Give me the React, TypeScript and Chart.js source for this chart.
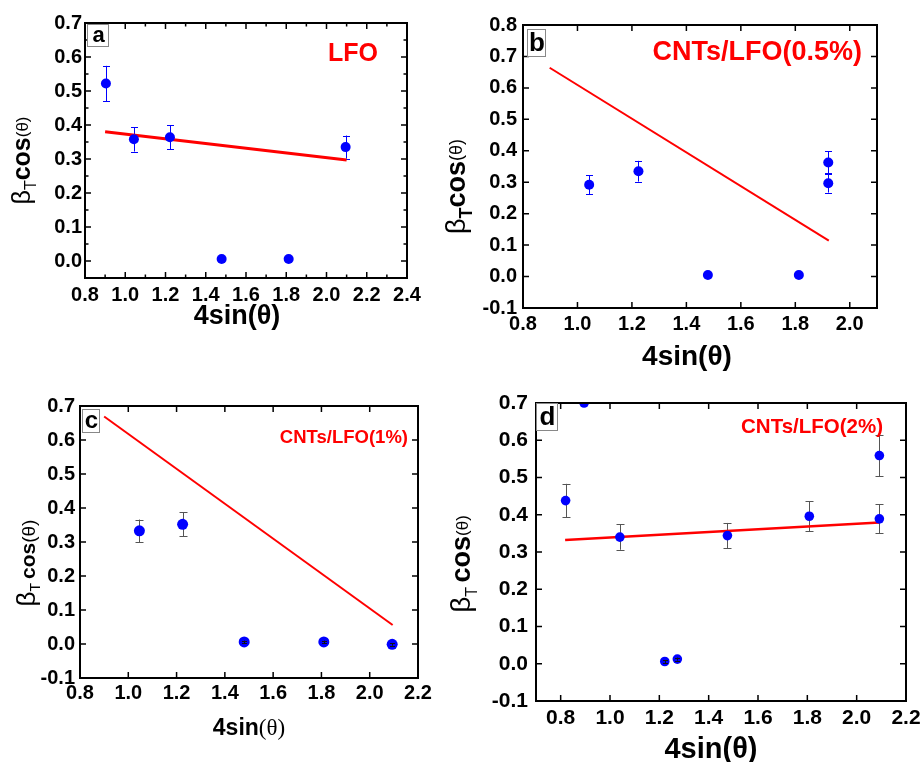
import React, { useEffect, useRef } from "react";
import { Chart, registerables } from "chart.js";
Chart.register(...registerables);

const SANS = "'Liberation Sans', Arial, sans-serif";
const SERIF = "'Liberation Serif', 'Times New Roman', serif";

// ---- Panel a : LFO
const aX = [0.904, 1.043, 1.222, 1.479, 1.812, 2.095];
const aY = [0.522, 0.358, 0.364, 0.006, 0.006, 0.335];
const aErr = [0.052, 0.036, 0.036, 0, 0, 0.034];
const aFitX = [0.9, 2.1];
const aFitY = [0.38, 0.297];
const aXTicks = [0.8, 1.0, 1.2, 1.4, 1.6, 1.8, 2.0, 2.2, 2.4];
const aYTicks = [0.0, 0.1, 0.2, 0.3, 0.4, 0.5, 0.6, 0.7];

// ---- Panel b : CNTs/LFO(0.5%)
const bX = [1.043, 1.224, 1.479, 1.813, 1.921, 1.921];
const bY = [0.292, 0.335, 0.005, 0.005, 0.363, 0.297];
const bErr = [0.03, 0.033, 0, 0, 0.035, 0.03];
const bFitX = [0.898, 1.923];
const bFitY = [0.664, 0.114];
const bXTicks = [0.8, 1.0, 1.2, 1.4, 1.6, 1.8, 2.0];
const bYTicks = [-0.1, 0.0, 0.1, 0.2, 0.3, 0.4, 0.5, 0.6, 0.7, 0.8];

// ---- Panel c : CNTs/LFO(1%)
const cX = [1.046, 1.225, 1.48, 1.81, 2.093];
const cY = [0.333, 0.352, 0.006, 0.006, -0.001];
const cErr = [0.033, 0.035, 0.004, 0.004, 0.004];
const cFitX = [0.9, 2.095];
const cFitY = [0.669, 0.056];
const cXTicks = [0.8, 1.0, 1.2, 1.4, 1.6, 1.8, 2.0, 2.2];
const cYTicks = [-0.1, 0.0, 0.1, 0.2, 0.3, 0.4, 0.5, 0.6, 0.7];

// ---- Panel d : CNTs/LFO(2%)
const dX = [0.82, 0.895, 1.04, 1.222, 1.273, 1.476, 1.808, 2.092, 2.092];
const dY = [0.438, 0.7, 0.34, 0.006, 0.0125, 0.344, 0.396, 0.389, 0.559];
const dErr = [0.045, 0, 0.034, 0.004, 0.004, 0.034, 0.04, 0.039, 0.056];
const dFitX = [0.818, 2.092];
const dFitY = [0.332, 0.379];
const dXTicks = [0.8, 1.0, 1.2, 1.4, 1.6, 1.8, 2.0, 2.2];
const dYTicks = [-0.1, 0.0, 0.1, 0.2, 0.3, 0.4, 0.5, 0.6, 0.7];

type Seg = { t: string; font: string; dy?: number };

type Cfg = {
  area: { l: number; t: number; r: number; b: number };
  xMin: number; xMax: number; yMin: number; yMax: number;
  xTicks: number[]; yTicks: number[];
  xs: number[]; ys: number[]; errs: number[];
  fitX: number[]; fitY: number[];
  minor: boolean;
  tickSize: number; yPad: number; xPad: number;
  pointR: number; errColor: string; cap: number; fitW: number;
  letter: { t: string; x: number; y: number; w: number; h: number; size: number };
  label: { t: string; size: number; dx: number; dy: number };
  xTitle: { segs: Seg[]; dx: number; dy: number };
  yTitle: { segs: Seg[]; dx: number; dy: number };
};

const W = 921;
const H = 762;

function drawSegs(ctx: CanvasRenderingContext2D, segs: Seg[]) {
  let total = 0;
  const widths = segs.map((s) => {
    ctx.font = s.font;
    const w = ctx.measureText(s.t).width;
    total += w;
    return w;
  });
  let x = -total / 2;
  ctx.textAlign = "left";
  ctx.textBaseline = "alphabetic";
  segs.forEach((s, i) => {
    ctx.font = s.font;
    ctx.fillText(s.t, x, s.dy || 0);
    x += widths[i];
  });
}

function Panel({ cfg }: { cfg: Cfg }) {
  const ref = useRef<HTMLCanvasElement | null>(null);
  useEffect(() => {
    const c = cfg;
    const drawErr = (chart: any, small: boolean) => {
      const ctx = chart.ctx;
      const xs = chart.scales.x;
      const ys = chart.scales.y;
      const a = chart.chartArea;
      ctx.save();
      ctx.beginPath();
      ctx.rect(a.left, a.top, a.right - a.left, a.bottom - a.top);
      ctx.clip();
      ctx.strokeStyle = small ? "#111111" : c.errColor;
      ctx.lineWidth = 1;
      const cap = small ? 5 : c.cap;
      c.xs.forEach((xv, i) => {
        const e = c.errs[i];
        if (!e) return;
        if (small !== e < 0.01) return;
        const px = Math.round(xs.getPixelForValue(xv)) + 0.5;
        const top = ys.getPixelForValue(c.ys[i] + e);
        const bot = ys.getPixelForValue(c.ys[i] - e);
        ctx.beginPath();
        ctx.moveTo(px, top);
        ctx.lineTo(px, bot);
        ctx.moveTo(px - cap / 2, Math.round(top) + 0.5);
        ctx.lineTo(px + cap / 2, Math.round(top) + 0.5);
        ctx.moveTo(px - cap / 2, Math.round(bot) + 0.5);
        ctx.lineTo(px + cap / 2, Math.round(bot) + 0.5);
        ctx.stroke();
      });
      ctx.restore();
    };
    const deco = {
      id: "deco",
      beforeDatasetsDraw(chart: any) {
        drawErr(chart, false);
      },
      afterDatasetsDraw(chart: any) {
        drawErr(chart, true);
      },
      afterDraw(chart: any) {
        const ctx = chart.ctx;
        const a = chart.chartArea;
        const xs = chart.scales.x;
        const ys = chart.scales.y;
        ctx.save();
        ctx.strokeStyle = "#000";
        ctx.lineWidth = 1.5;
        const major = 6;
        const minorL = 3.5;
        const xt = c.xTicks.slice();
        const yt = c.yTicks.slice();
        const drawX = (v: number, len: number) => {
          const p = xs.getPixelForValue(v);
          if (p < a.left - 0.5 || p > a.right + 0.5) return;
          ctx.beginPath();
          ctx.moveTo(p, a.bottom);
          ctx.lineTo(p, a.bottom - len);
          ctx.moveTo(p, a.top);
          ctx.lineTo(p, a.top + len);
          ctx.stroke();
        };
        const drawY = (v: number, len: number) => {
          const p = ys.getPixelForValue(v);
          if (p < a.top - 0.5 || p > a.bottom + 0.5) return;
          ctx.beginPath();
          ctx.moveTo(a.left, p);
          ctx.lineTo(a.left + len, p);
          ctx.moveTo(a.right, p);
          ctx.lineTo(a.right - len, p);
          ctx.stroke();
        };
        xt.forEach((v) => drawX(v, major));
        yt.forEach((v) => drawY(v, major));
        if (c.minor) {
          const mx = [xt[0] - (xt[1] - xt[0]) / 2, ...xt.map((v, i) => (i ? (v + xt[i - 1]) / 2 : NaN))];
          mx.filter((v) => !isNaN(v)).forEach((v) => drawX(v, minorL));
          const my = [yt[0] - (yt[1] - yt[0]) / 2, ...yt.map((v, i) => (i ? (v + yt[i - 1]) / 2 : NaN))];
          my.filter((v) => !isNaN(v)).forEach((v) => drawY(v, minorL));
        }
        ctx.lineWidth = 2;
        ctx.strokeRect(a.left, a.top, a.right - a.left, a.bottom - a.top);
        const L = c.letter;
        ctx.fillStyle = "#fff";
        ctx.fillRect(a.left + L.x, a.top + L.y, L.w, L.h);
        ctx.strokeStyle = "#888";
        ctx.lineWidth = 1;
        ctx.strokeRect(a.left + L.x + 0.5, a.top + L.y + 0.5, L.w, L.h);
        ctx.fillStyle = "#000";
        ctx.font = `bold ${L.size}px ${SANS}`;
        ctx.textAlign = "center";
        ctx.textBaseline = "middle";
        ctx.fillText(L.t, a.left + L.x + L.w / 2 + 1, a.top + L.y + L.h / 2 + 1);
        ctx.fillStyle = "#ff0000";
        ctx.font = `bold ${c.label.size}px ${SANS}`;
        ctx.textAlign = "right";
        ctx.textBaseline = "middle";
        ctx.fillText(c.label.t, a.right - c.label.dx, a.top + c.label.dy);
        ctx.fillStyle = "#000";
        ctx.save();
        ctx.translate((a.left + a.right) / 2 + c.xTitle.dx, a.bottom + c.xTitle.dy);
        drawSegs(ctx, c.xTitle.segs);
        ctx.restore();
        ctx.save();
        ctx.translate(a.left - c.yTitle.dx, (a.top + a.bottom) / 2 + c.yTitle.dy);
        ctx.rotate(-Math.PI / 2);
        drawSegs(ctx, c.yTitle.segs);
        ctx.restore();
        ctx.restore();
      },
    };
    const yW = 70;
    const xH = 45;
    const chart = new Chart(ref.current as HTMLCanvasElement, {
      type: "scatter",
      data: {
        datasets: [
          {
            type: "line",
            data: c.fitX.map((x, i) => ({ x, y: c.fitY[i] })),
            borderColor: "#ff0000",
            borderWidth: c.fitW,
            pointRadius: 0,
            fill: false,
            clip: 0,
            order: 2,
          } as any,
          {
            data: c.xs.map((x, i) => ({ x, y: c.ys[i] })),
            backgroundColor: "#0000ff",
            borderWidth: 0,
            pointRadius: c.pointR,
            clip: 0,
            order: 1,
          } as any,
        ],
      },
      options: {
        responsive: false,
        animation: false,
        events: [],
        layout: {
          padding: {
            left: c.area.l - yW,
            top: c.area.t,
            right: W - c.area.r,
            bottom: H - c.area.b - xH,
          },
        },
        plugins: { legend: { display: false }, tooltip: { enabled: false } },
        scales: {
          x: {
            type: "linear",
            min: c.xMin,
            max: c.xMax,
            grid: { display: false, drawTicks: false, tickLength: 0 },
            border: { display: false },
            afterBuildTicks: (s: any) => {
              s.ticks = c.xTicks.map((v) => ({ value: v }));
            },
            afterFit: (s: any) => {
              s.height = xH;
              s.paddingLeft = 0;
              s.paddingRight = 0;
            },
            ticks: {
              color: "#000",
              padding: c.xPad,
              maxRotation: 0,
              autoSkip: false,
              font: { family: SANS, size: c.tickSize, weight: "bold" },
              callback: (v: any) => Number(v).toFixed(1),
            },
          },
          y: {
            type: "linear",
            min: c.yMin,
            max: c.yMax,
            grid: { display: false, drawTicks: false, tickLength: 0 },
            border: { display: false },
            afterBuildTicks: (s: any) => {
              s.ticks = c.yTicks.map((v) => ({ value: v }));
            },
            afterFit: (s: any) => {
              s.width = yW;
              s.paddingTop = 0;
              s.paddingBottom = 0;
            },
            ticks: {
              color: "#000",
              padding: c.yPad,
              autoSkip: false,
              font: { family: SANS, size: c.tickSize, weight: "bold" },
              callback: (v: any) => Number(v).toFixed(1),
            },
          },
        },
      } as any,
      plugins: [deco],
    });
    return () => chart.destroy();
  }, [cfg]);
  return (
    <canvas
      ref={ref}
      width={W}
      height={H}
      style={{ position: "absolute", left: 0, top: 0, width: W, height: H }}
    />
  );
}

const bold = (n: number) => `bold ${n}px ${SANS}`;
const norm = (n: number) => `${n}px ${SANS}`;

const panels: Cfg[] = [
  {
    area: { l: 85, t: 23, r: 407, b: 278 },
    xMin: 0.8, xMax: 2.4, yMin: -0.05, yMax: 0.7,
    xTicks: aXTicks, yTicks: aYTicks,
    xs: aX, ys: aY, errs: aErr, fitX: aFitX, fitY: aFitY,
    minor: true, tickSize: 20, yPad: 3, xPad: 5,
    pointR: 5, errColor: "#0000ff", cap: 7, fitW: 3,
    letter: { t: "a", x: 2, y: 1, w: 21, h: 22, size: 22 },
    label: { t: "LFO", size: 25, dx: 29, dy: 31 },
    xTitle: { segs: [{ t: "4sin(θ)", font: bold(27) }], dx: -9, dy: 46 },
    yTitle: {
      segs: [
        { t: "β", font: norm(25) },
        { t: "T", font: norm(16), dy: 6 },
        { t: "cos", font: bold(25) },
        { t: "(θ)", font: norm(17), dy: -2 },
      ],
      dx: 55, dy: 10,
    },
  },
  {
    area: { l: 523, t: 25, r: 877, b: 308 },
    xMin: 0.8, xMax: 2.1, yMin: -0.1, yMax: 0.8,
    xTicks: bXTicks, yTicks: bYTicks,
    xs: bX, ys: bY, errs: bErr, fitX: bFitX, fitY: bFitY,
    minor: false, tickSize: 20, yPad: 6, xPad: 4,
    pointR: 5, errColor: "#0000ff", cap: 7, fitW: 2,
    letter: { t: "b", x: 4, y: 4, w: 18, h: 27, size: 26 },
    label: { t: "CNTs/LFO(0.5%)", size: 27, dx: 15, dy: 28 },
    xTitle: { segs: [{ t: "4sin(θ)", font: bold(28) }], dx: -13, dy: 57 },
    yTitle: {
      segs: [
        { t: "β", font: norm(27) },
        { t: "T", font: bold(18), dy: 7 },
        { t: "cos", font: bold(27) },
        { t: "(θ)", font: norm(18), dy: -3 },
      ],
      dx: 58, dy: 20,
    },
  },
  {
    area: { l: 80, t: 406, r: 418, b: 678 },
    xMin: 0.8, xMax: 2.2, yMin: -0.1, yMax: 0.7,
    xTicks: cXTicks, yTicks: cYTicks,
    xs: cX, ys: cY, errs: cErr, fitX: cFitX, fitY: cFitY,
    minor: false, tickSize: 20, yPad: 5, xPad: 3,
    pointR: 5.5, errColor: "#555555", cap: 8, fitW: 2,
    letter: { t: "c", x: 2, y: 3, w: 17, h: 23, size: 24 },
    label: { t: "CNTs/LFO(1%)", size: 18.5, dx: 10, dy: 32 },
    xTitle: {
      segs: [
        { t: "4sin", font: bold(23) },
        { t: "(θ)", font: `${23}px ${SERIF}` },
      ],
      dx: 0, dy: 57,
    },
    yTitle: {
      segs: [
        { t: "β", font: norm(26) },
        { t: "T ", font: norm(14), dy: 5 },
        { t: "cos", font: bold(21) },
        { t: "(θ)", font: norm(19) },
      ],
      dx: 45, dy: 21,
    },
  },
  {
    area: { l: 536, t: 403, r: 906, b: 701 },
    xMin: 0.7, xMax: 2.2, yMin: -0.1, yMax: 0.7,
    xTicks: dXTicks, yTicks: dYTicks,
    xs: dX, ys: dY, errs: dErr, fitX: dFitX, fitY: dFitY,
    minor: false, tickSize: 21, yPad: 8, xPad: 5,
    pointR: 4.8, errColor: "#555555", cap: 8, fitW: 2.5,
    letter: { t: "d", x: 0, y: 0, w: 21, h: 27, size: 26 },
    label: { t: "CNTs/LFO(2%)", size: 20.5, dx: 23, dy: 24 },
    xTitle: { segs: [{ t: "4sin(θ)", font: bold(29) }], dx: -10, dy: 57 },
    yTitle: {
      segs: [
        { t: "β", font: norm(28) },
        { t: "T ", font: norm(16), dy: 7 },
        { t: "cos", font: bold(27) },
        { t: "(θ)", font: norm(17), dy: -2 },
      ],
      dx: 66, dy: 12,
    },
  },
];

export default function App() {
  return (
    <div
      style={{
        position: "fixed",
        left: 0,
        top: 0,
        width: W,
        height: H,
        background: "#fff",
        overflow: "hidden",
      }}
    >
      {panels.map((p, i) => (
        <Panel key={i} cfg={p} />
      ))}
    </div>
  );
}
